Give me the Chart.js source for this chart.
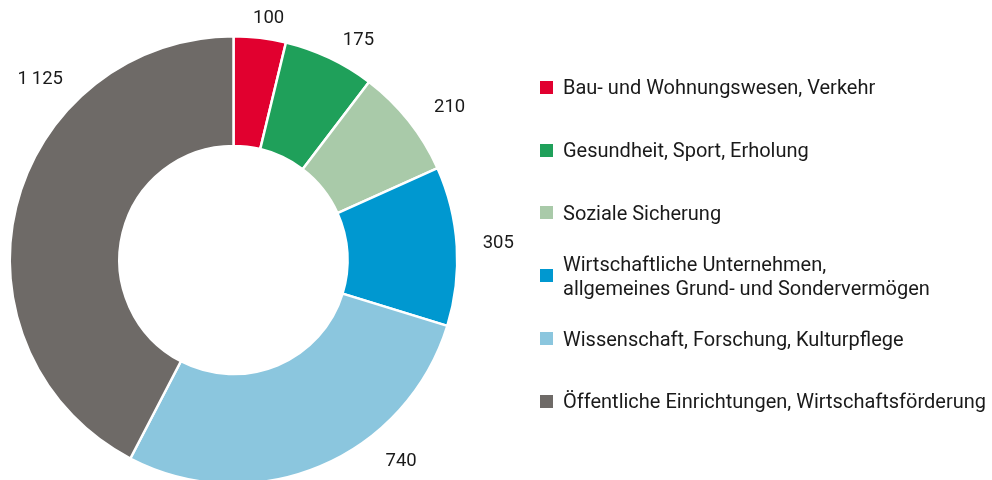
<!DOCTYPE html>
<html>
<head>
<meta charset="utf-8">
<script src="https://cdn.jsdelivr.net/npm/chart.js@4"></script>
<style>
  html, body { margin: 0; padding: 0; background: #fff; width: 992px; height: 480px; overflow: hidden; }
  #wrap { position: absolute; left: 0; top: 0; width: 992px; height: 520px; }
  #legend { position: absolute; left: 540px; top: 56px; width: 452px; font-family: "Source Sans Pro", Roboto, sans-serif; font-size: 20px; color: #1a1a1a; }
  .row { height: 62.8px; display: flex; align-items: center; }
  .sw { width: 13px; height: 13px; flex: 0 0 13px; margin-right: 10px; }
  .tx { line-height: 24px; white-space: nowrap; }
</style>
</head>
<body>
<div id="wrap"><canvas id="c" width="992" height="520"></canvas></div>
<div id="legend"></div>
<script>
const categories = [
  "Bau- und Wohnungswesen, Verkehr",
  "Gesundheit, Sport, Erholung",
  "Soziale Sicherung",
  "Wirtschaftliche Unternehmen,\nallgemeines Grund- und Sondervermögen",
  "Wissenschaft, Forschung, Kulturpflege",
  "Öffentliche Einrichtungen, Wirtschaftsförderung"
];
const values = [100, 175, 210, 305, 740, 1125];
const valueLabels = ["100", "175", "210", "305", "740", "1\u2009125"];
const colors = ["#e1002f", "#1fa05a", "#a9caa9", "#0098d0", "#8bc6de", "#6e6a67"];
// label placement tweaks (degrees of rotation from slice middle, gap beyond outer edge in px)
const labelAngleShiftDeg = [1.5, 4.2, 3.2, 0, -17.1, 29.4];
const labelGap = [20.5, 29, 41, 41.5, 38, 41];

const legend = document.getElementById('legend');
categories.forEach((c, i) => {
  const row = document.createElement('div'); row.className = 'row';
  const sw = document.createElement('div'); sw.className = 'sw'; sw.style.background = colors[i];
  const tx = document.createElement('div'); tx.className = 'tx';
  c.split('\n').forEach((line, j) => { if (j) tx.appendChild(document.createElement('br')); tx.appendChild(document.createTextNode(line)); });
  row.appendChild(sw); row.appendChild(tx); legend.appendChild(row);
});

const outLabels = {
  id: 'outLabels',
  afterDatasetsDraw(chart) {
    const ctx = chart.ctx;
    const meta = chart.getDatasetMeta(0);
    ctx.save();
    ctx.font = '18.5px "Source Sans Pro", Roboto, sans-serif';
    ctx.fillStyle = '#1a1a1a';
    ctx.textAlign = 'center';
    ctx.textBaseline = 'middle';
    meta.data.forEach((arc, i) => {
      const p = arc.getProps(['x', 'y', 'startAngle', 'endAngle', 'outerRadius'], true);
      const a = (p.startAngle + p.endAngle) / 2 + labelAngleShiftDeg[i] * Math.PI / 180;
      const r = p.outerRadius + labelGap[i];
      ctx.fillText(valueLabels[i], p.x + Math.cos(a) * r, p.y + Math.sin(a) * r);
    });
    ctx.restore();
  }
};

new Chart(document.getElementById('c'), {
  type: 'doughnut',
  data: {
    labels: categories,
    datasets: [{ data: values, backgroundColor: colors, borderColor: '#fff', borderWidth: 2.5, hoverOffset: 0 }]
  },
  options: {
    responsive: false,
    animation: false,
    cutout: '51%',
    layout: { padding: { left: 8, right: 533, top: 35, bottom: 35 } },
    plugins: { legend: { display: false }, tooltip: { enabled: false } }
  },
  plugins: [outLabels]
});
</script>
</body>
</html>
